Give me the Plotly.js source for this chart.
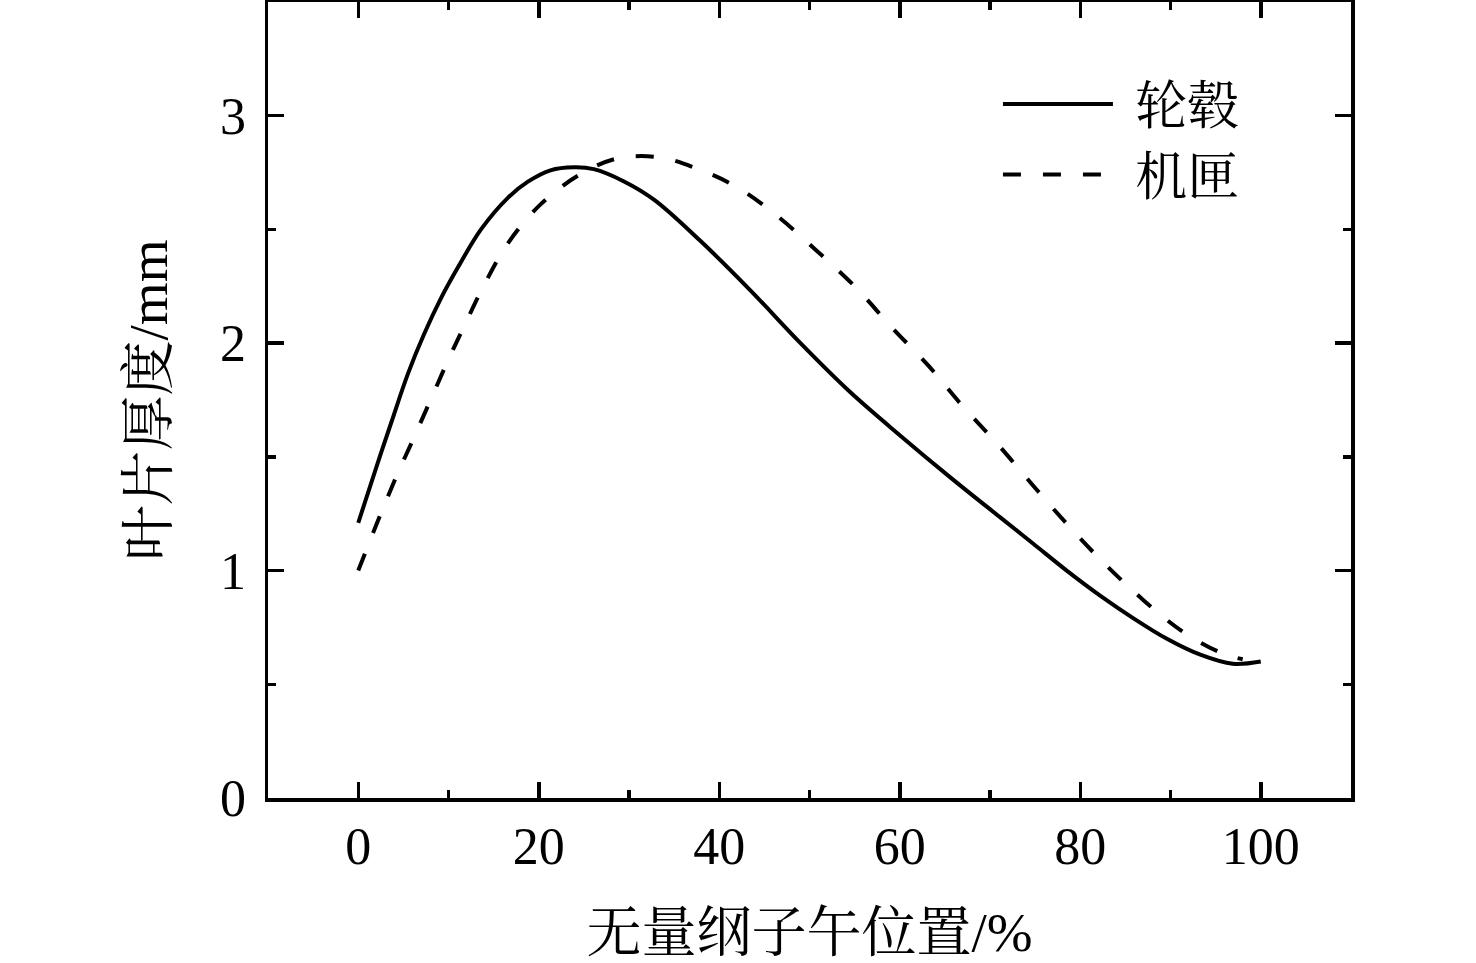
<!DOCTYPE html>
<html>
<head>
<meta charset="utf-8">
<script src="https://cdn.plot.ly/plotly-3.0.1.min.js"></script>
<style>html,body{margin:0;padding:0;background:#fff;}#chart{width:1476px;height:963px;}</style>
</head>
<body>
<div id="chart"></div>
<script>
// 轮毂 (hub)
const hubX = [0, 1.8, 3.65, 5.5, 7.3, 9.2, 11.0, 13.6, 16.6, 18.8, 21.3, 23.9, 26.1, 29.5, 32.8, 37.9, 43.5, 49.0, 54.5, 60.1, 65.6, 71.1, 74.8, 78.5, 82.2, 85.9, 89.6, 93.3, 96.9, 100];
const hubY = [1.21, 1.43, 1.65, 1.865, 2.04, 2.20, 2.33, 2.50, 2.64, 2.71, 2.76, 2.773, 2.765, 2.71, 2.63, 2.45, 2.23, 2.00, 1.785, 1.592, 1.41, 1.235, 1.118, 1.0, 0.89, 0.79, 0.70, 0.63, 0.59, 0.60];
// 机匣 (shroud)
const shroudX = [0, 2.5, 4.4, 6.0, 7.9, 9.9, 11.8, 14.0, 16.6, 20.2, 24.5, 28.7, 33.4, 37.7, 42.0, 46.4, 50.7, 55.1, 59.1, 63.2, 66.9, 70.8, 74.6, 78.5, 82.7, 87.0, 91.4, 95.8, 98];
const shroudY = [1.0, 1.25, 1.43, 1.57, 1.74, 1.92, 2.08, 2.26, 2.44, 2.61, 2.74, 2.812, 2.817, 2.765, 2.685, 2.56, 2.41, 2.246, 2.07, 1.90, 1.726, 1.558, 1.382, 1.206, 1.03, 0.87, 0.73, 0.635, 0.61];

const seriesNames = ['轮毂', '机匣'];
const xTickVals = [0, 20, 40, 60, 80, 100];
const yTickVals = [0, 1, 2, 3];
const xTitle = '无量纲子午位置/%';
const yTitle = '叶片厚度/mm';

const FONT = '"Liberation Serif", "Times New Roman", "Noto Serif CJK SC", "Noto Sans CJK SC", serif';
const GAP = '\u00a0\u200a';

const traces = [
  {x: hubX, y: hubY, name: GAP + seriesNames[0], mode: 'lines', type: 'scatter',
   line: {color: '#000', width: 4, shape: 'spline', smoothing: 1}},
  {x: shroudX, y: shroudY, name: GAP + seriesNames[1], mode: 'lines', type: 'scatter',
   line: {color: '#000', width: 4, dash: '18px,22px', shape: 'spline', smoothing: 1}}
];

const axisCommon = {
  showline: true, linecolor: '#000', linewidth: 3.5, mirror: 'ticks',
  ticks: 'inside', ticklen: 16, tickwidth: 3.5, tickcolor: '#000',
  showgrid: false, zeroline: false,
  tickfont: {family: FONT, size: 52, color: '#000'}
};

const layout = {
  width: 1476, height: 963,
  margin: {l: 268, r: 125, t: 2, b: 165},
  paper_bgcolor: '#fff', plot_bgcolor: '#fff',
  font: {family: FONT, color: '#000'},
  showlegend: true,
  legend: {
    x: 0.674, y: 0.9225, xanchor: 'left', yanchor: 'top',
    bgcolor: 'rgba(0,0,0,0)', borderwidth: 0,
    itemwidth: 110,
    font: {family: FONT, size: 52, color: '#000'}
  },
  xaxis: Object.assign({}, axisCommon, {
    range: [-10, 110], tickvals: xTickVals,
    minor: {dtick: 10, tick0: 0, ticks: 'inside', ticklen: 8, tickwidth: 3.5, tickcolor: '#000', showgrid: false},
    ticklabelstandoff: 0,
    title: {text: xTitle, font: {family: FONT, size: 55, color: '#000'}, standoff: 44}
  }),
  yaxis: Object.assign({}, axisCommon, {
    range: [0, 3.5], tickvals: yTickVals,
    minor: {dtick: 0.5, tick0: 0, ticks: 'inside', ticklen: 8, tickwidth: 3.5, tickcolor: '#000', showgrid: false},
    ticklabelstandoff: 8,
    title: {text: yTitle, font: {family: FONT, size: 55, color: '#000'}, standoff: 36}
  })
};

Plotly.newPlot('chart', traces, layout, {displayModeBar: false, staticPlot: true});
</script>
</body>
</html>
